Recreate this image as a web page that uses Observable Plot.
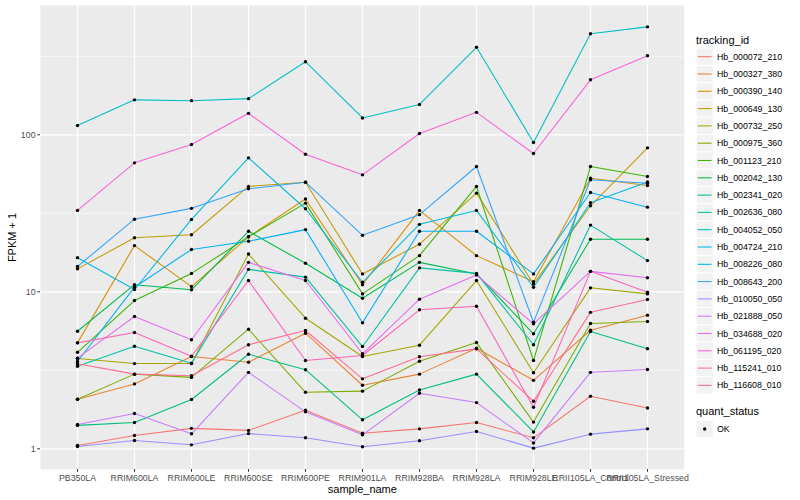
<!DOCTYPE html>
<html>
<head>
<meta charset="utf-8">
<script src="https://cdn.jsdelivr.net/npm/d3@7"></script>
<script src="https://cdn.jsdelivr.net/npm/@observablehq/plot@0.6"></script>
<style>
  html, body { margin: 0; padding: 0; background: #fff; }
  #chart { position: relative; width: 800px; height: 500px; font-family: "Liberation Sans", Arial, sans-serif; }
  #legend { position: absolute; left: 0; top: 0; pointer-events: none; }
</style>
</head>
<body>
<div id="chart"></div>
<script>
const samples = ["PB350LA","RRIM600LA","RRIM600LE","RRIM600SE","RRIM600PE","RRIM901LA","RRIM928BA","RRIM928LA","RRIM928LE","RRII105LA_Control","RRII105LA_Stressed"];
const trackingIds = ["Hb_000072_210","Hb_000327_380","Hb_000390_140","Hb_000649_130","Hb_000732_250","Hb_000975_360","Hb_001123_210","Hb_002042_130","Hb_002341_020","Hb_002636_080","Hb_004052_050","Hb_004724_210","Hb_008226_080","Hb_008643_200","Hb_010050_050","Hb_021888_050","Hb_034688_020","Hb_061195_020","Hb_115241_010","Hb_116608_010"];
const colors = ["#F8766D","#EA8331","#D89000","#C09B00","#A3A500","#7CAE00","#39B600","#00BB4E","#00BF7D","#00C1A3","#00BFC4","#00BAE0","#00B0F6","#35A2FF","#9590FF","#C77CFF","#E76BF3","#FA62DB","#FF62BC","#FF6C91"];
const yTicks = [1, 10, 100];
const yMinor = [3.1623, 31.623, 316.23];
const quantStatus = ["OK"];

// FPKM + 1 values, one array per tracking_id, in sample order
const hb_000072_210 = [1.05, 1.216, 1.35, 1.31, 1.76, 1.257, 1.34, 1.47, 1.175, 2.16, 1.82];
const hb_000327_380 = [2.07, 2.59, 3.87, 3.56, 5.45, 2.54, 2.99, 4.37, 2.73, 5.69, 7.1];
const hb_000390_140 = [4.73, 19.7, 10.8, 22.4, 39, 11.1, 33.0, 17.0, 11.6, 52.9, 47.5];
const hb_000649_130 = [14.0, 22.1, 23.1, 46.9, 49.9, 13.0, 20.1, 42.5, 11.2, 35.3, 82.6];
const hb_000732_250 = [3.76, 3.49, 3.49, 17.4, 6.79, 3.87, 4.57, 11.8, 3.05, 10.6, 9.7];
const hb_000975_360 = [2.07, 2.99, 2.85, 5.78, 2.29, 2.33, 3.61, 4.75, 1.48, 6.28, 6.47];
const hb_001123_210 = [4.12, 8.8, 13.1, 22.4, 36.7, 9.7, 17.0, 46.9, 3.65, 62.8, 54.2];
const hb_002042_130 = [5.61, 11.1, 10.3, 24.3, 15.2, 9.1, 15.4, 13.0, 5.4, 21.6, 21.6];
const hb_002341_020 = [1.41, 1.47, 2.06, 4.0, 3.19, 1.53, 2.37, 2.99, 1.28, 5.58, 4.34];
const hb_002636_080 = [3.36, 4.5, 3.51, 13.9, 12.4, 4.48, 14.2, 13.1, 4.6, 26.6, 15.8];
const hb_004052_050 = [114.6, 167, 165, 170, 292, 128, 156, 361, 89.3, 440, 487];
const hb_004724_210 = [16.5, 10.35, 28.9, 71.3, 33.8, 11.5, 26.9, 33.0, 10.7, 36.9, 50];
const hb_008226_080 = [3.6, 10.7, 18.6, 21.0, 24.9, 6.35, 24.3, 24.3, 13.0, 42.9, 34.6];
const hb_008643_200 = [14.5, 29, 34, 45.3, 49.9, 22.9, 31, 62.8, 6.4, 51.7, 49.2];
const hb_010050_050 = [1.034, 1.13, 1.06, 1.25, 1.175, 1.03, 1.125, 1.29, 1.01, 1.24, 1.34];
const hb_021888_050 = [1.43, 1.68, 1.246, 3.07, 1.72, 1.228, 2.26, 1.97, 1.09, 3.07, 3.2];
const hb_034688_020 = [3.78, 6.96, 4.95, 15.4, 11.8, 4.03, 8.97, 12.8, 6.25, 13.5, 12.3];
const hb_061195_020 = [33.0, 66.3, 86.7, 137, 75.2, 55.6, 102, 139, 76, 224, 319];
const hb_115241_010 = [4.73, 5.5, 3.89, 11.8, 3.65, 3.93, 7.68, 8.09, 1.84, 13.5, 9.94];
const hb_116608_010 = [3.48, 2.99, 2.92, 4.6, 5.67, 2.79, 3.86, 4.33, 2.01, 7.4, 8.93];

const seriesValues = [hb_000072_210, hb_000327_380, hb_000390_140, hb_000649_130, hb_000732_250, hb_000975_360, hb_001123_210, hb_002042_130, hb_002341_020, hb_002636_080, hb_004052_050, hb_004724_210, hb_008226_080, hb_008643_200, hb_010050_050, hb_021888_050, hb_034688_020, hb_061195_020, hb_115241_010, hb_116608_010];

const data = [];
seriesValues.forEach((vals, i) => vals.forEach((v, j) => data.push({tracking_id: trackingIds[i], sample_name: samples[j], fpkm: v, quant_status: "OK"})));

const W = 800, H = 500;
const mL = 40, mR = 116.3, mT = 5, mB = 31;
const font = "Liberation Sans, Arial, sans-serif";

const plot = Plot.plot({
  width: W, height: H,
  marginLeft: mL, marginRight: mR, marginTop: mT, marginBottom: mB,
  style: {fontFamily: font, background: "white", overflow: "visible"},
  x: {type: "point", domain: samples, padding: 0.6, label: null},
  y: {type: "log", domain: [0.7383, 666.2], label: null},
  color: {domain: trackingIds, range: colors},
  marks: [
    Plot.frame({fill: "#EBEBEB", stroke: null}),
    Plot.ruleY(yMinor, {stroke: "white", strokeWidth: 0.6}),
    Plot.ruleY(yTicks, {stroke: "white", strokeWidth: 1.2}),
    Plot.ruleX(samples, {stroke: "white", strokeWidth: 1.2}),
    Plot.line(data, {x: "sample_name", y: "fpkm", z: "tracking_id", stroke: "tracking_id", strokeWidth: 1.07}),
    Plot.dot(data, {x: "sample_name", y: "fpkm", fill: "black", r: 1.7, stroke: null}),
    Plot.axisX({tickSize: 2.75, tickPadding: 2.2, fontSize: 8.8, fill: "#4D4D4D", stroke: "#333333", label: null}),
    Plot.axisY({ticks: yTicks, tickFormat: d => String(d), tickSize: 2.75, tickPadding: 2.2, fontSize: 8.8, fill: "#4D4D4D", stroke: "#333333", label: null}),
    Plot.text(["sample_name"], {frameAnchor: "bottom", dy: 20, fontSize: 11, fill: "black", lineAnchor: "middle"}),
    Plot.text(["FPKM + 1"], {frameAnchor: "left", dx: -28, rotate: -90, fontSize: 11, fill: "black", textAnchor: "middle", lineAnchor: "middle"})
  ]
});

const chart = document.getElementById("chart");
chart.appendChild(plot);

// Legend (right side), ggplot-style
const leg = d3.select(chart).append("svg").attr("id", "legend")
  .attr("width", W).attr("height", H)
  .style("font-family", font);

const keyX = 696, keyW = 17.3, keyH = 17.3, textX = 717;
const firstCenter = 56.7, step = 17.3;

leg.append("text").attr("x", keyX).attr("y", 43.5).attr("font-size", 11).attr("fill", "black").text("tracking_id");

const items = leg.selectAll("g.item").data(trackingIds).join("g").attr("class", "item")
  .attr("transform", (d, i) => `translate(0,${firstCenter + i * step})`);
items.append("rect").attr("x", keyX).attr("y", -keyH / 2).attr("width", keyW).attr("height", keyH)
  .attr("fill", "#F2F2F2").attr("stroke", "white").attr("stroke-width", 1);
items.append("line").attr("x1", keyX + 1.7).attr("x2", keyX + keyW - 1.7).attr("y1", 0).attr("y2", 0)
  .attr("stroke", (d, i) => colors[i]).attr("stroke-width", 1.07);
items.append("text").attr("x", textX).attr("y", 0).attr("dy", "0.35em").attr("font-size", 8.8).attr("fill", "black").text(d => d);

leg.append("text").attr("x", keyX).attr("y", 414.5).attr("font-size", 11).attr("fill", "black").text("quant_status");
const qs = leg.selectAll("g.qs").data(quantStatus).join("g").attr("class", "qs")
  .attr("transform", (d, i) => `translate(0,${429 + i * step})`);
qs.append("rect").attr("x", keyX).attr("y", -keyH / 2).attr("width", keyW).attr("height", keyH)
  .attr("fill", "#F2F2F2").attr("stroke", "white").attr("stroke-width", 1);
qs.append("circle").attr("cx", keyX + keyW / 2).attr("cy", 0).attr("r", 1.7).attr("fill", "black");
qs.append("text").attr("x", textX).attr("y", 0).attr("dy", "0.35em").attr("font-size", 8.8).attr("fill", "black").text(d => d);
</script>
</body>
</html>
